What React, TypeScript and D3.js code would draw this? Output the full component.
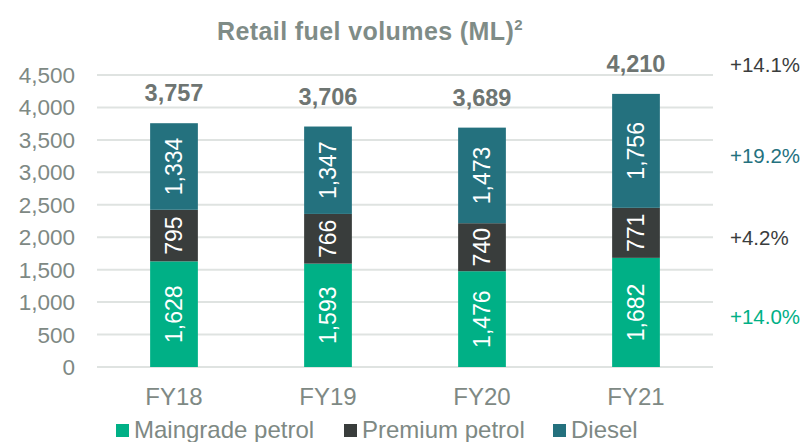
import React from 'react';
import * as d3 from 'd3';

const years = ['FY18', 'FY19', 'FY20', 'FY21'];
const maingrade = [1628, 1593, 1476, 1682];
const premium = [795, 766, 740, 771];
const diesel = [1334, 1347, 1473, 1756];
const totals = [3757, 3706, 3689, 4210];
const changes = { total: '+14.1%', diesel: '+19.2%', premium: '+4.2%', maingrade: '+14.0%' };
const yTicks = [0, 500, 1000, 1500, 2000, 2500, 3000, 3500, 4000, 4500];

const series = [
  { key: 'maingrade', name: 'Maingrade petrol', values: maingrade, color: '#00b086' },
  { key: 'premium', name: 'Premium petrol', values: premium, color: '#393d3c' },
  { key: 'diesel', name: 'Diesel', values: diesel, color: '#24717e' },
];

const W = 805;
const H = 442;
const font = 'Arial, "Liberation Sans", sans-serif';
const grey = '#7e8984';

const App: React.FC = () => {
  const x = d3.scaleBand<string>().domain(years).range([97, 713]).paddingInner(0.69).paddingOuter(0.345);
  const y = d3.scaleLinear().domain([0, 4500]).range([367, 75]);
  const fmt = d3.format(',');

  const rows = years.map((yr, i) => {
    const r: any = { yr };
    series.forEach(s => (r[s.key] = s.values[i]));
    return r;
  });
  const stacked = d3.stack<any>().keys(series.map(s => s.key))(rows);

  const last = years.length - 1;
  const annX = 730;
  const mid = (k: number) => {
    const d = stacked[k][last];
    return y((d[0] + d[1]) / 2);
  };

  return (
    <svg width={W} height={H} style={{ position: 'absolute', left: 0, top: 0, fontFamily: font }}>
      <text x={370} y={40} textAnchor="middle" fontSize={25} fontWeight="bold" fill="#7f8c87" letterSpacing={0.4}>
        Retail fuel volumes (ML)<tspan fontSize={15} dy={-10}>2</tspan>
      </text>

      {yTicks.map(t => (
        <g key={t}>
          <line x1={97} x2={713} y1={y(t)} y2={y(t)} stroke="#dfe3e1" strokeWidth={2} />
          <text x={75} y={y(t) + 8} textAnchor="end" fontSize={22.5} fill={grey}>{fmt(t)}</text>
        </g>
      ))}

      {stacked.map((layer, k) =>
        layer.map((d, i) => {
          const x0 = x(years[i])!;
          const bw = x.bandwidth();
          const y0 = y(d[1]);
          const h = y(d[0]) - y(d[1]);
          const cx = x0 + bw / 2;
          const cy = y0 + h / 2;
          return (
            <g key={`${k}-${i}`}>
              <rect x={x0} y={y0} width={bw} height={h} fill={series[k].color} />
              <text
                transform={`translate(${cx + 8},${cy}) rotate(-90)`}
                textAnchor="middle"
                fontSize={23}
                fill="#ffffff"
              >
                {fmt(d[1] - d[0])}
              </text>
            </g>
          );
        })
      )}

      {totals.map((t, i) => (
        <text key={i} x={x(years[i])! + x.bandwidth() / 2} y={y(t) - 22} textAnchor="middle" fontSize={23.5} fontWeight="bold" fill="#6e7572">
          {fmt(t)}
        </text>
      ))}

      {years.map(yr => (
        <text key={yr} x={x(yr)! + x.bandwidth() / 2} y={405} textAnchor="middle" fontSize={24} fill={grey}>{yr}</text>
      ))}

      <text x={annX} y={y(totals[last]) - 22} fontSize={20.5} fill="#3a3d3d">{changes.total}</text>
      <text x={annX} y={mid(2) + 12} fontSize={20.5} fill="#24717e">{changes.diesel}</text>
      <text x={annX} y={mid(1) + 12} fontSize={20.5} fill="#3a3d3d">{changes.premium}</text>
      <text x={annX} y={mid(0) + 12} fontSize={20.5} fill="#00b086">{changes.maingrade}</text>

      {series.map((s, i) => {
        const lx = [116, 344, 553][i];
        return (
          <g key={s.key}>
            <rect x={lx} y={424} width={13} height={13} fill={s.color} />
            <text x={lx + 18} y={438} fontSize={24} fill={grey}>{s.name}</text>
          </g>
        );
      })}
    </svg>
  );
};

export default App;
